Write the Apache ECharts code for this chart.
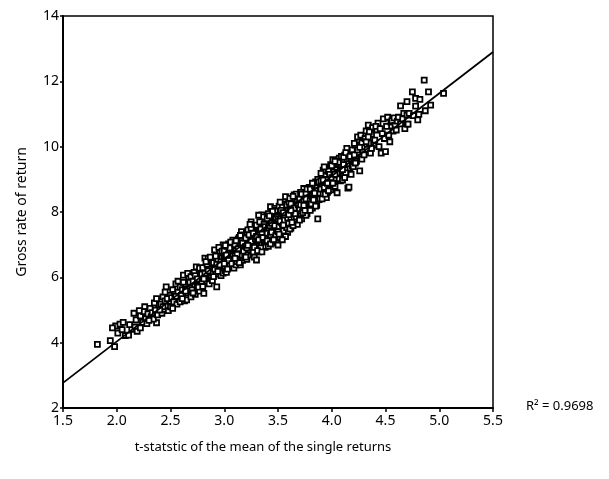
<!DOCTYPE html>
<html>
<head>
<meta charset="utf-8">
<script src="https://cdn.jsdelivr.net/npm/echarts@6/dist/echarts.min.js"></script>
<style>
html,body{margin:0;padding:0;background:#fff;}
#chart{width:609px;height:479px;}
</style>
</head>
<body>
<div id="chart"></div>
<script>
// scatter points: [t-statistic, gross rate of return]
const points = [
[1.82,3.95],[1.94,4.06],[1.98,3.88],[1.99,4.51],[1.96,4.45],
[2.03,4.57],[2.01,4.29],[2.05,4.40],[2.08,4.22],[2.06,4.62],
[2.11,4.23],[2.14,4.41],[2.16,4.90],[2.12,4.55],[2.18,4.70],[2.17,4.48],[2.19,4.35],
[2.22,4.82],[2.22,4.45],[2.26,5.10],[2.24,4.62],[2.25,4.95],[2.27,4.74],[2.28,4.58],[2.21,4.98],[2.29,4.88],
[2.32,4.80],[2.39,5.15],[2.37,4.61],[2.31,5.05],[2.33,4.92],[2.35,5.22],[2.34,4.72],[2.36,5.00],[2.38,4.85],[2.37,5.35],[2.30,4.68],
[2.42,4.90],[2.41,5.18],[2.43,5.40],[2.44,5.02],[2.45,5.28],[2.46,5.71],[2.47,5.12],[2.48,4.98],[2.49,5.45],[2.45,5.55],[2.43,5.10],[2.47,5.35],[2.40,5.00],
[2.50,5.10],[2.51,5.38],[2.52,5.62],[2.53,5.25],[2.54,5.48],[2.55,5.80],[2.56,5.18],[2.57,5.55],[2.58,5.32],[2.59,5.25],[2.59,5.70],[2.52,5.05],[2.55,5.42],[2.57,5.88],
[2.60,5.45],[2.61,5.62],[2.62,6.07],[2.63,5.28],[2.64,5.78],[2.65,5.31],[2.66,5.52],[2.67,5.95],[2.68,5.68],[2.69,5.40],[2.62,5.85],[2.66,6.12],[2.64,5.58],[2.68,5.85],[2.61,5.35],[2.69,6.02],
[2.70,5.62],[2.71,5.88],[2.72,6.15],[2.73,5.48],[2.74,6.32],[2.75,5.75],[2.76,6.00],[2.77,5.58],[2.78,6.22],[2.79,5.85],[2.71,5.52],[2.73,6.05],[2.75,5.95],[2.77,6.28],[2.79,6.10],[2.76,5.70],
[2.80,5.72],[2.81,5.51],[2.82,6.59],[2.83,6.05],[2.84,5.88],[2.85,6.58],[2.86,6.25],[2.87,5.98],[2.88,6.42],[2.89,6.15],[2.80,6.30],[2.82,6.12],[2.84,6.40],[2.86,5.80],[2.88,6.00],[2.81,5.95],[2.83,6.48],[2.85,6.20],[2.87,6.62],[2.89,5.90],
[2.90,6.45],[2.91,6.84],[2.92,6.10],[2.93,5.71],[2.94,6.55],[2.95,6.30],[2.96,6.75],[2.97,6.05],[2.98,6.60],[2.99,6.99],[2.99,6.13],[2.91,6.25],[2.93,6.40],[2.95,6.92],[2.97,6.48],[2.92,6.65],[2.94,6.18],[2.96,6.38],[2.98,6.80],[2.90,6.02],
[3.00,6.55],[3.01,6.20],[3.02,6.85],[3.03,6.40],[3.04,7.02],[3.05,6.65],[3.06,6.30],[3.07,6.95],[3.08,7.14],[3.09,6.50],[3.00,6.80],[3.02,6.15],[3.04,6.72],[3.06,6.88],[3.08,6.45],[3.01,6.62],[3.03,6.95],[3.05,6.35],[3.07,6.58],[3.09,6.82],[3.03,6.25],[3.06,7.08],[3.08,6.70],[3.04,6.52],[3.00,6.42],[3.09,6.28],[3.05,6.90],[3.02,6.68],[3.07,6.42],[3.01,6.98],
[3.10,6.75],[3.11,6.38],[3.12,7.05],[3.13,6.55],[3.14,7.22],[3.15,6.38],[3.16,7.40],[3.17,6.85],[3.18,6.62],[3.19,7.15],[3.10,7.00],[3.12,6.48],[3.14,6.90],[3.16,6.68],[3.18,7.30],[3.11,6.82],[3.13,7.18],[3.15,6.98],[3.17,6.52],[3.19,6.92],[3.12,6.70],[3.14,6.45],[3.16,7.10],[3.18,6.80],[3.10,6.58],[3.13,6.88],[3.15,7.28],[3.17,7.05],[3.19,6.60],[3.11,7.12],
[3.20,6.95],[3.21,6.55],[3.22,7.25],[3.23,6.75],[3.24,7.48],[3.25,7.70],[3.26,6.88],[3.27,7.12],[3.28,6.62],[3.29,7.40],[3.20,7.20],[3.22,6.68],[3.24,7.05],[3.26,7.32],[3.28,7.55],[3.21,7.38],[3.23,7.02],[3.25,6.80],[3.27,7.58],[3.29,6.98],[3.20,6.62],[3.22,7.45],[3.24,6.85],[3.26,7.15],[3.28,7.22],[3.21,6.90],[3.23,7.30],[3.25,7.10],[3.27,6.78],[3.29,7.18],[3.25,7.50],[3.22,6.98],[3.28,6.92],[3.24,7.62],[3.27,7.35],
[3.30,6.53],[3.31,7.12],[3.32,7.45],[3.33,6.85],[3.34,7.65],[3.35,7.91],[3.36,7.05],[3.37,7.30],[3.38,6.92],[3.39,7.72],[3.30,7.25],[3.32,6.78],[3.34,7.18],[3.36,7.52],[3.38,7.80],[3.31,7.58],[3.33,7.38],[3.35,7.00],[3.37,6.95],[3.39,7.42],[3.30,7.60],[3.32,7.15],[3.34,6.90],[3.36,7.85],[3.38,7.20],[3.31,6.82],[3.33,7.70],[3.35,7.35],[3.37,7.62],[3.39,7.08],[3.34,7.48],[3.36,7.22],[3.32,7.90],[3.38,7.55],[3.35,6.78],
[3.40,7.35],[3.41,6.95],[3.42,7.75],[3.43,8.16],[3.44,7.15],[3.45,7.55],[3.46,7.90],[3.47,8.11],[3.47,7.20],[3.48,7.62],[3.49,7.05],[3.40,7.80],[3.42,7.10],[3.44,7.95],[3.46,7.40],[3.48,8.05],[3.41,7.52],[3.43,7.30],[3.45,7.72],[3.47,7.48],[3.49,7.85],[3.40,7.12],[3.42,7.58],[3.44,7.38],[3.46,7.68],[3.48,7.28],[3.41,7.95],[3.43,7.02],[3.45,8.02],[3.49,7.45],[3.44,7.65],[3.46,7.15],[3.48,7.78],[3.42,7.88],[3.47,7.58],
[3.50,6.99],[3.51,7.55],[3.52,8.02],[3.53,7.30],[3.54,7.85],[3.55,8.25],[3.56,7.45],[3.57,8.47],[3.58,7.70],[3.59,7.38],[3.50,7.80],[3.52,7.22],[3.54,7.62],[3.56,8.10],[3.58,7.95],[3.51,8.18],[3.53,7.68],[3.55,7.42],[3.57,7.88],[3.59,8.05],[3.50,7.40],[3.52,7.72],[3.54,8.15],[3.56,7.75],[3.58,7.52],[3.51,7.32],[3.53,8.05],[3.55,7.60],[3.57,7.25],[3.59,7.82],[3.54,7.15],[3.56,7.92],[3.52,8.30],[3.58,8.22],[3.55,7.98],
[3.60,7.65],[3.61,8.10],[3.62,7.51],[3.63,8.35],[3.64,7.88],[3.65,8.52],[3.66,7.72],[3.67,8.20],[3.68,7.95],[3.69,8.45],[3.60,8.30],[3.62,7.82],[3.64,8.18],[3.66,8.40],[3.68,7.62],[3.61,7.48],[3.63,7.98],[3.65,7.78],[3.67,8.55],[3.69,8.02],[3.60,7.92],[3.62,8.25],[3.64,7.58],[3.66,8.08],[3.68,8.32],[3.61,8.42],[3.63,7.68],[3.65,8.12],[3.67,7.85],[3.69,8.22],[3.64,8.48],[3.66,7.95],[3.62,8.05],
[3.70,8.10],[3.71,7.88],[3.72,7.79],[3.73,8.45],[3.74,8.05],[3.75,8.65],[3.76,8.25],[3.77,7.95],[3.78,8.52],[3.79,8.15],[3.70,8.40],[3.72,8.28],[3.74,8.72],[3.76,7.90],[3.78,8.30],[3.71,8.60],[3.73,8.15],[3.75,8.38],[3.77,8.48],[3.79,8.75],[3.70,7.75],[3.72,8.55],[3.74,8.35],[3.76,8.58],[3.78,8.10],[3.71,8.22],[3.73,7.98],[3.75,8.05],[3.77,8.70],[3.79,8.42],[3.74,8.20],[3.76,8.40],
[3.80,8.35],[3.81,8.60],[3.82,8.12],[3.83,8.85],[3.84,8.30],[3.85,8.92],[3.86,8.50],[3.87,7.79],[3.86,8.20],[3.88,8.68],[3.89,8.95],[3.80,8.70],[3.82,8.45],[3.84,8.80],[3.86,8.75],[3.88,8.38],[3.81,8.25],[3.83,8.55],[3.85,8.65],[3.87,9.00],[3.89,8.58],[3.80,8.05],[3.82,8.88],[3.84,8.58],[3.86,8.35],[3.88,8.92],[3.83,8.37],[3.85,8.18],[3.89,8.40],
[3.90,8.70],[3.91,9.05],[3.92,8.55],[3.93,9.20],[3.94,8.82],[3.95,8.44],[3.96,9.12],[3.97,8.92],[3.98,9.35],[3.99,8.68],[3.90,8.95],[3.92,9.28],[3.94,9.10],[3.96,8.60],[3.98,8.85],[3.91,8.40],[3.93,8.75],[3.95,9.00],[3.97,9.25],[3.99,9.45],[3.90,9.18],[3.92,8.98],[3.94,8.55],[3.96,8.88],[3.98,9.15],[3.93,9.38],[3.97,8.65],
[4.00,9.05],[4.01,9.60],[4.02,8.85],[4.03,8.78],[4.04,9.30],[4.05,8.59],[4.05,9.48],[4.06,9.12],[4.07,9.65],[4.08,8.95],[4.09,9.38],[4.00,9.42],[4.02,9.22],[4.04,8.98],[4.06,9.52],[4.08,9.25],[4.01,8.88],[4.03,9.55],[4.07,9.02],[4.09,9.70],[4.05,9.20],[4.03,9.15],
[4.10,8.98],[4.11,9.45],[4.12,9.74],[4.13,9.20],[4.14,9.62],[4.15,8.73],[4.16,8.76],[4.16,9.85],[4.17,9.35],[4.18,9.55],[4.19,9.90],[4.10,9.30],[4.12,9.05],[4.14,9.95],[4.16,9.48],[4.18,9.15],[4.11,9.68],[4.13,9.82],[4.17,9.70],[4.19,9.42],
[4.20,9.39],[4.21,9.75],[4.22,10.05],[4.23,9.55],[4.24,9.90],[4.25,10.20],[4.26,9.26],[4.27,9.68],[4.28,10.12],[4.29,9.85],[4.22,9.50],[4.24,10.30],[4.26,9.98],[4.28,9.62],[4.21,10.10],[4.27,10.35],
[4.30,9.75],[4.31,10.25],[4.32,10.48],[4.33,9.92],[4.34,10.66],[4.35,10.10],[4.36,9.80],[4.37,10.38],[4.38,10.58],[4.39,10.05],[4.32,10.15],[4.35,10.45],[4.37,9.95],[4.34,10.30],
[4.40,10.20],[4.42,10.51],[4.43,10.72],[4.44,10.00],[4.46,9.80],[4.47,10.40],[4.48,10.85],[4.49,10.25],[4.41,10.62],[4.45,10.55],
[4.50,9.85],[4.51,10.62],[4.52,10.90],[4.54,10.15],[4.55,10.75],[4.56,10.80],[4.57,10.48],[4.58,10.88],[4.59,10.65],[4.60,10.51],[4.53,10.35],
[4.61,10.78],[4.62,10.90],[4.64,11.25],[4.64,10.70],[4.66,10.85],[4.67,11.02],[4.68,10.55],[4.70,10.97],[4.70,10.69],[4.70,11.38],
[4.71,10.69],[4.72,11.02],[4.75,11.68],[4.76,10.95],[4.78,11.48],[4.78,11.24],[4.80,10.82],
[4.81,10.99],[4.82,11.45],[4.86,12.04],[4.87,11.10],[4.90,11.68],[4.92,11.27],[5.04,11.63]
];
// fitted regression line end points
const fitLine = [[1.5, 2.77], [5.5, 12.9]];
const xTicks = [1.5, 2.0, 2.5, 3.0, 3.5, 4.0, 4.5, 5.0, 5.5];
const yTicks = [2, 4, 6, 8, 10, 12, 14];
const xTitle = 't-statstic of the mean of the single returns';
const yTitle = 'Gross rate of return';
const r2Text = 'R\u00B2 = 0.9698';

const FONT = '"Noto Sans", sans-serif';
const chart = echarts.init(document.getElementById('chart'));
chart.setOption({
  animation: false,
  backgroundColor: '#fff',
  grid: { left: 63, right: 116, top: 16, bottom: 71, show: true, borderColor: '#000', borderWidth: 1.5 },
  xAxis: {
    type: 'value', min: xTicks[0], max: xTicks[xTicks.length - 1], interval: 0.5,
    name: xTitle, nameLocation: 'middle', nameGap: 33,
    nameTextStyle: { fontFamily: FONT, fontSize: 13, color: '#000', padding: [0, 30, 0, 0] },
    axisLine: { lineStyle: { color: '#000', width: 2 } },
    axisTick: { show: true, length: 4, lineStyle: { color: '#000', width: 1.5 } },
    axisLabel: { fontFamily: FONT, fontSize: 14, color: '#000', margin: 6,
      formatter: v => v.toFixed(1) },
    splitLine: { show: false }
  },
  yAxis: {
    type: 'value', min: yTicks[0], max: yTicks[yTicks.length - 1], interval: 2,
    name: yTitle, nameLocation: 'middle', nameGap: 34,
    nameTextStyle: { fontFamily: FONT, fontSize: 14, color: '#000' },
    axisLine: { lineStyle: { color: '#000', width: 2 } },
    axisTick: { show: true, length: 3, lineStyle: { color: '#000', width: 1.5 } },
    axisLabel: { fontFamily: FONT, fontSize: 14, color: '#000', margin: 4 },
    splitLine: { show: false }
  },
  series: [
    {
      type: 'scatter', data: points, symbol: 'rect', symbolSize: 5,
      itemStyle: { color: '#fff', borderColor: '#000', borderWidth: 1.8, opacity: 1 },
      silent: true, z: 2
    },
    {
      type: 'line', data: fitLine, symbol: 'none',
      lineStyle: { color: '#000', width: 1.8 }, silent: true, z: 3
    }
  ],
  graphic: [{
    type: 'text', left: 526, top: 400,
    style: { text: r2Text, font: '13px ' + FONT, fill: '#000' }
  }]
});
</script>
</body>
</html>
